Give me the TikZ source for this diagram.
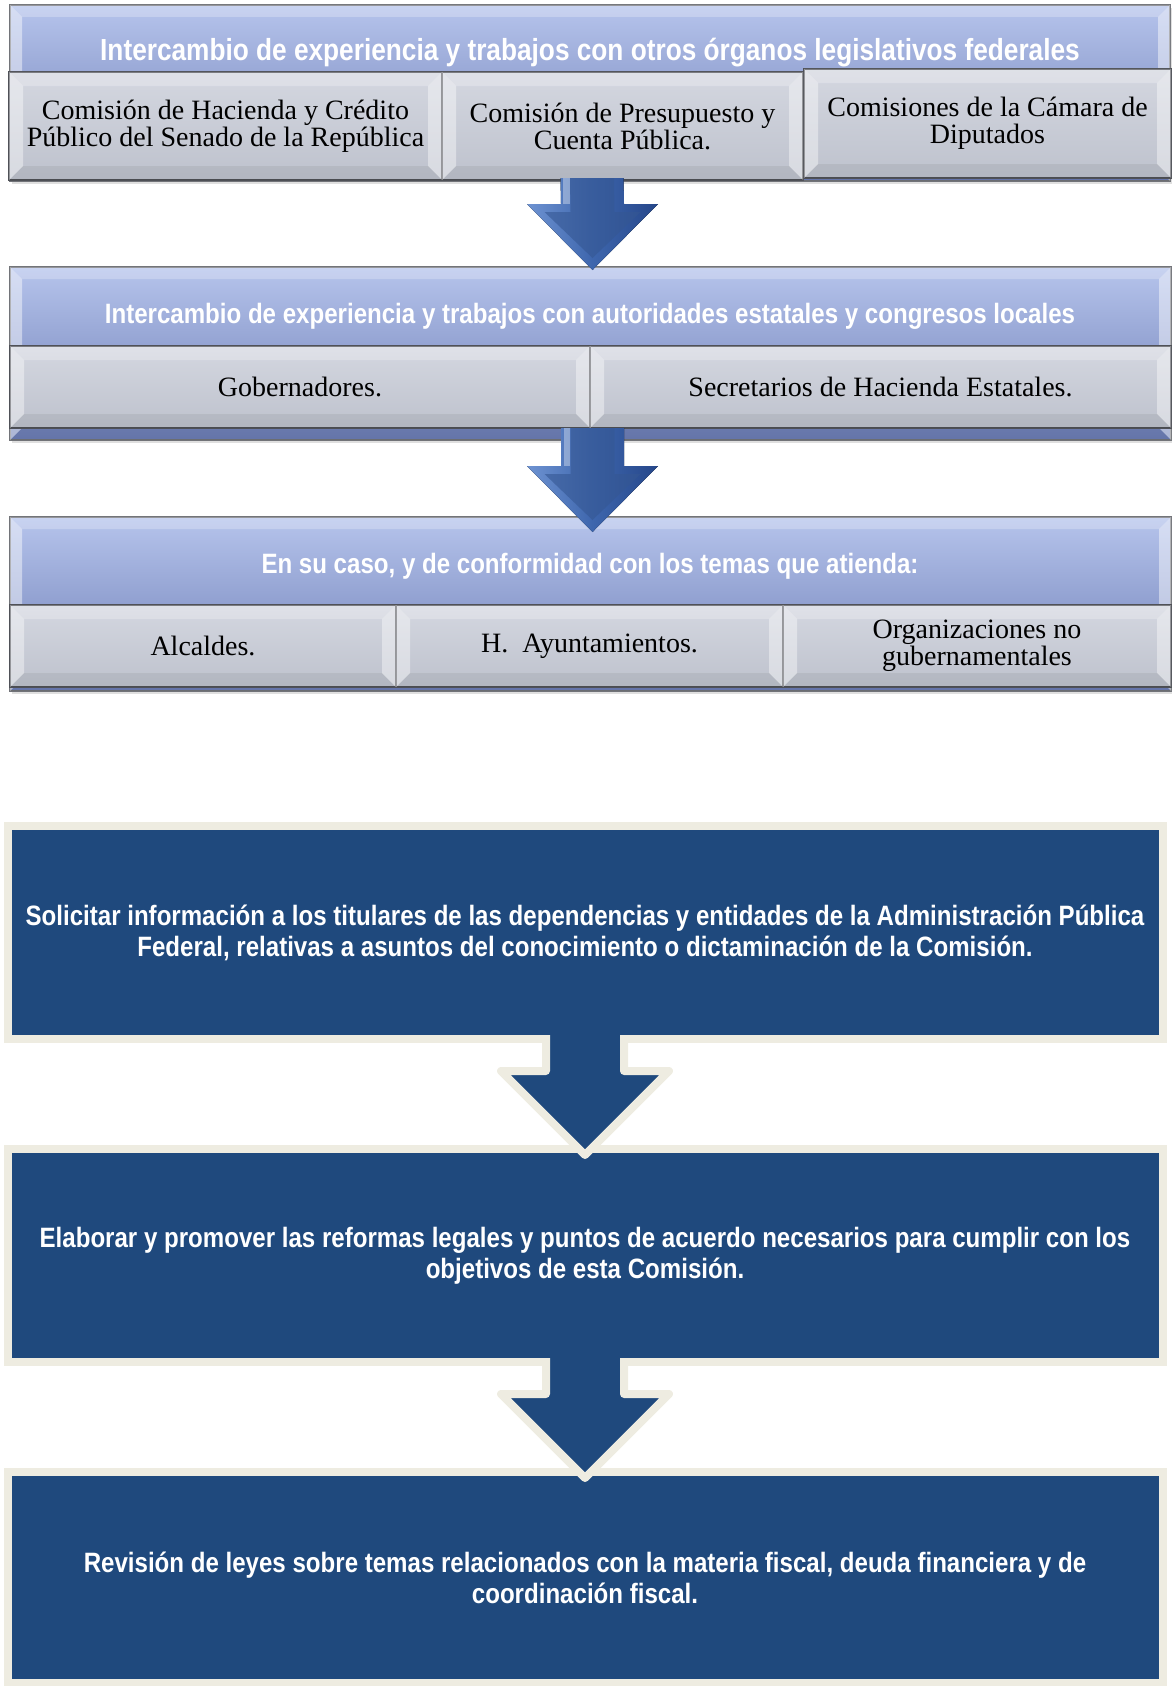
\documentclass[tikz,border=0pt]{standalone}
\usepackage{fontspec}
\setmainfont{Liberation Serif}
\newfontfamily\narrowsans[FakeStretch=0.86]{Liberation Sans}
\usepackage{tikz}
\usetikzlibrary{calc}
\usetikzlibrary{shadows}

\definecolor{hdrtop}{HTML}{B6C4EC}
\definecolor{hdrbot}{HTML}{6B7CB4}
\definecolor{celltop}{HTML}{D4D7E0}
\definecolor{cellbot}{HTML}{BEC2CD}
\definecolor{cellline}{HTML}{4F5157}
\definecolor{bluelight}{HTML}{6E93D2}
\definecolor{bluemid}{HTML}{3E66AD}
\definecolor{bluedark}{HTML}{26478A}
\definecolor{navy}{HTML}{1F497D}
\definecolor{cream}{HTML}{EEECE1}

% light facets round a box: #1 node, #2 depth, #3 side opacity
\newcommand{\bevel}[3]{%
  \fill[white, opacity=#3] (#1.north west) -- ($(#1.north west)+(#2,#2)$)
     -- ($(#1.south west)+(#2,-#2)$) -- (#1.south west) -- cycle;
  \fill[white, opacity=#3] (#1.north east) -- ($(#1.north east)+(-#2,#2)$)
     -- ($(#1.south east)+(-#2,-#2)$) -- (#1.south east) -- cycle;
  \fill[white, opacity=0.25] (#1.north west) -- ($(#1.north west)+(#2,#2)$)
     -- ($(#1.north east)+(-#2,#2)$) -- (#1.north east) -- cycle;
  \fill[black, opacity=0.06] (#1.south west) -- ($(#1.south west)+(#2,-#2)$)
     -- ($(#1.south east)+(-#2,-#2)$) -- (#1.south east) -- cycle;
}
% shaded block arrow from #1 down to the tip #2
\newcommand{\bluearrow}[2]{%
  \fill[left color=bluelight, right color=bluedark, middle color=bluemid]
     ($(#1)+(-31.5,0)$) -- ($(#2)+(-31.5,-66)$) -- ($(#2)+(-65.5,-66)$) -- (#2)
     -- ($(#2)+(65.5,-66)$) -- ($(#2)+(31.5,-66)$) -- ($(#1)+(31.5,0)$) -- cycle;
  \fill[bluemid!85!black, opacity=0.6]
     ($(#1)+(-22,0)$) -- ($(#2)+(-22,-58)$) -- ($(#2)+(-48,-58)$) -- ($(#2)+(0,-12)$)
     -- ($(#2)+(48,-58)$) -- ($(#2)+(22,-58)$) -- ($(#1)+(22,0)$) -- cycle;
  \fill[white, opacity=0.35] ($(#1)+(-29,0)$) rectangle ($(#2)+(-23,-66)$);
}
% flat block arrow from box #1 to box #2
\newcommand{\navyarrow}[2]{%
  \fill[navy] ($(#1.south)+(-39,-6)$) -- ($(#2.north)+(-39,-78)$) -- ($(#2.north)+(-84,-78)$)
     -- ($(#2.north)+(0,6)$) -- ($(#2.north)+(84,-78)$) -- ($(#2.north)+(39,-78)$)
     -- ($(#1.south)+(39,-6)$) -- cycle;
  \draw[cream, line width=8pt, line join=round]
     ($(#1.south)+(-39,-4)$) -- ($(#2.north)+(-39,-78)$) -- ($(#2.north)+(-84,-78)$)
     -- ($(#2.north)+(0,6)$) -- ($(#2.north)+(84,-78)$) -- ($(#2.north)+(39,-78)$)
     -- ($(#1.south)+(39,-4)$);
}

\begin{document}
\begin{tikzpicture}[
    x=1pt, y=-1pt,
    panel/.style={draw=cellline!80, line width=1.2pt, top color=hdrtop, bottom color=hdrbot,
        anchor=north west, inner sep=0pt, outer sep=0pt,
        drop shadow={shadow xshift=2pt, shadow yshift=-3pt, opacity=0.25}},
    cell/.style={draw=cellline, line width=1.4pt, top color=celltop, bottom color=cellbot,
        anchor=north west, inner sep=0pt, outer sep=0pt, align=center,
        font=\fontsize{28}{27}\selectfont},
    hdrtext/.style={anchor=base, text=white, inner sep=0pt,
        font=\narrowsans\bfseries\fontsize{28}{31}\selectfont},
    task/.style={draw=cream, line width=8pt, fill=navy, text=white, anchor=north west,
        inner sep=0pt, outer sep=0pt, align=center,
        font=\narrowsans\bfseries\fontsize{28}{31}\selectfont,
        drop shadow={shadow xshift=4pt, shadow yshift=-4pt, opacity=0.3}},
    ]
    \useasboundingbox (0,0) rectangle (1172,1686);

    % first group
    \node[panel, minimum width=1160pt, minimum height=176pt] (p1) at (10,5) {};
    \bevel{p1}{12}{0.45}
    \node[hdrtext, font=\narrowsans\bfseries\fontsize{30.5}{31}\selectfont] (h1) at (590,61)
        {Intercambio de experiencia y trabajos con otros órganos legislativos federales};
    \node[cell, minimum width=433pt, minimum height=108pt] (c11) at (9,72)
        {Comisión de Hacienda y Crédito\\Público del Senado de la República};
    \node[cell, minimum width=361pt, minimum height=108pt] (c12) at (c11.north east)
        {Comisión de Presupuesto y\\Cuenta Pública.};
    \node[cell, minimum width=367pt, minimum height=109pt] (c13) at (804,69)
        {Comisiones de la Cámara de\\Diputados};
    \foreach \c in {c11,c12,c13} {\bevel{\c}{14}{0.4}}

    % second group
    \node[panel, minimum width=1161pt, minimum height=173pt] (p2) at (10,267) {};
    \bevel{p2}{12}{0.45}
    \node[hdrtext] (h2) at (590,323)
        {Intercambio de experiencia y trabajos con autoridades estatales y congresos locales};
    \node[cell, minimum width=580pt, minimum height=82pt] (c21) at (10,346) {Gobernadores.};
    \node[cell, minimum width=581pt, minimum height=82pt] (c22) at (c21.north east)
        {Secretarios de Hacienda Estatales.};
    \foreach \c in {c21,c22} {\bevel{\c}{14}{0.4}}

    % third group
    \node[panel, minimum width=1161pt, minimum height=174pt] (p3) at (10,517) {};
    \bevel{p3}{12}{0.45}
    \node[hdrtext] (h3) at (590,573) {En su caso, y de conformidad con los temas que atienda:};
    \node[cell, minimum width=386pt, minimum height=82pt] (c31) at (10,605) {Alcaldes.};
    \node[cell, minimum width=387pt, minimum height=82pt] (c32) at (c31.north east)
        {H.\ \ Ayuntamientos.};
    \node[cell, minimum width=388pt, minimum height=82pt] (c33) at (c32.north east)
        {Organizaciones no\\gubernamentales};
    \foreach \c in {c31,c32,c33} {\bevel{\c}{14}{0.4}}

    % arrows between groups
    \coordinate (a1) at ($(p1.south)+(2,-3)$);
    \coordinate (a1tip) at ($(p2.north)+(2,3)$);
    \bluearrow{a1}{a1tip}
    \coordinate (a2) at ($(p2.south)+(2,-12)$);
    \coordinate (a2tip) at ($(p3.north)+(2,15)$);
    \bluearrow{a2}{a2tip}

    % tasks
    \node[task, minimum width=1155pt, minimum height=213pt] (bA) at (7.5,826)
        {Solicitar información a los titulares de las dependencias y entidades de la Administración Pública\\
         Federal, relativas a asuntos del conocimiento o dictaminación de la Comisión.};
    \node[task, minimum width=1155pt, minimum height=213pt] (bB) at (7.5,1149)
        {Elaborar y promover las reformas legales y puntos de acuerdo necesarios para cumplir con los\\
         objetivos de esta Comisión.};
    \node[task, minimum width=1155pt, minimum height=211pt] (bC) at (7.5,1472)
        {Revisión de leyes sobre temas relacionados con la materia fiscal, deuda financiera y de\\
         coordinación fiscal.};
    \navyarrow{bA}{bB}
    \navyarrow{bB}{bC}
\end{tikzpicture}
\end{document}
